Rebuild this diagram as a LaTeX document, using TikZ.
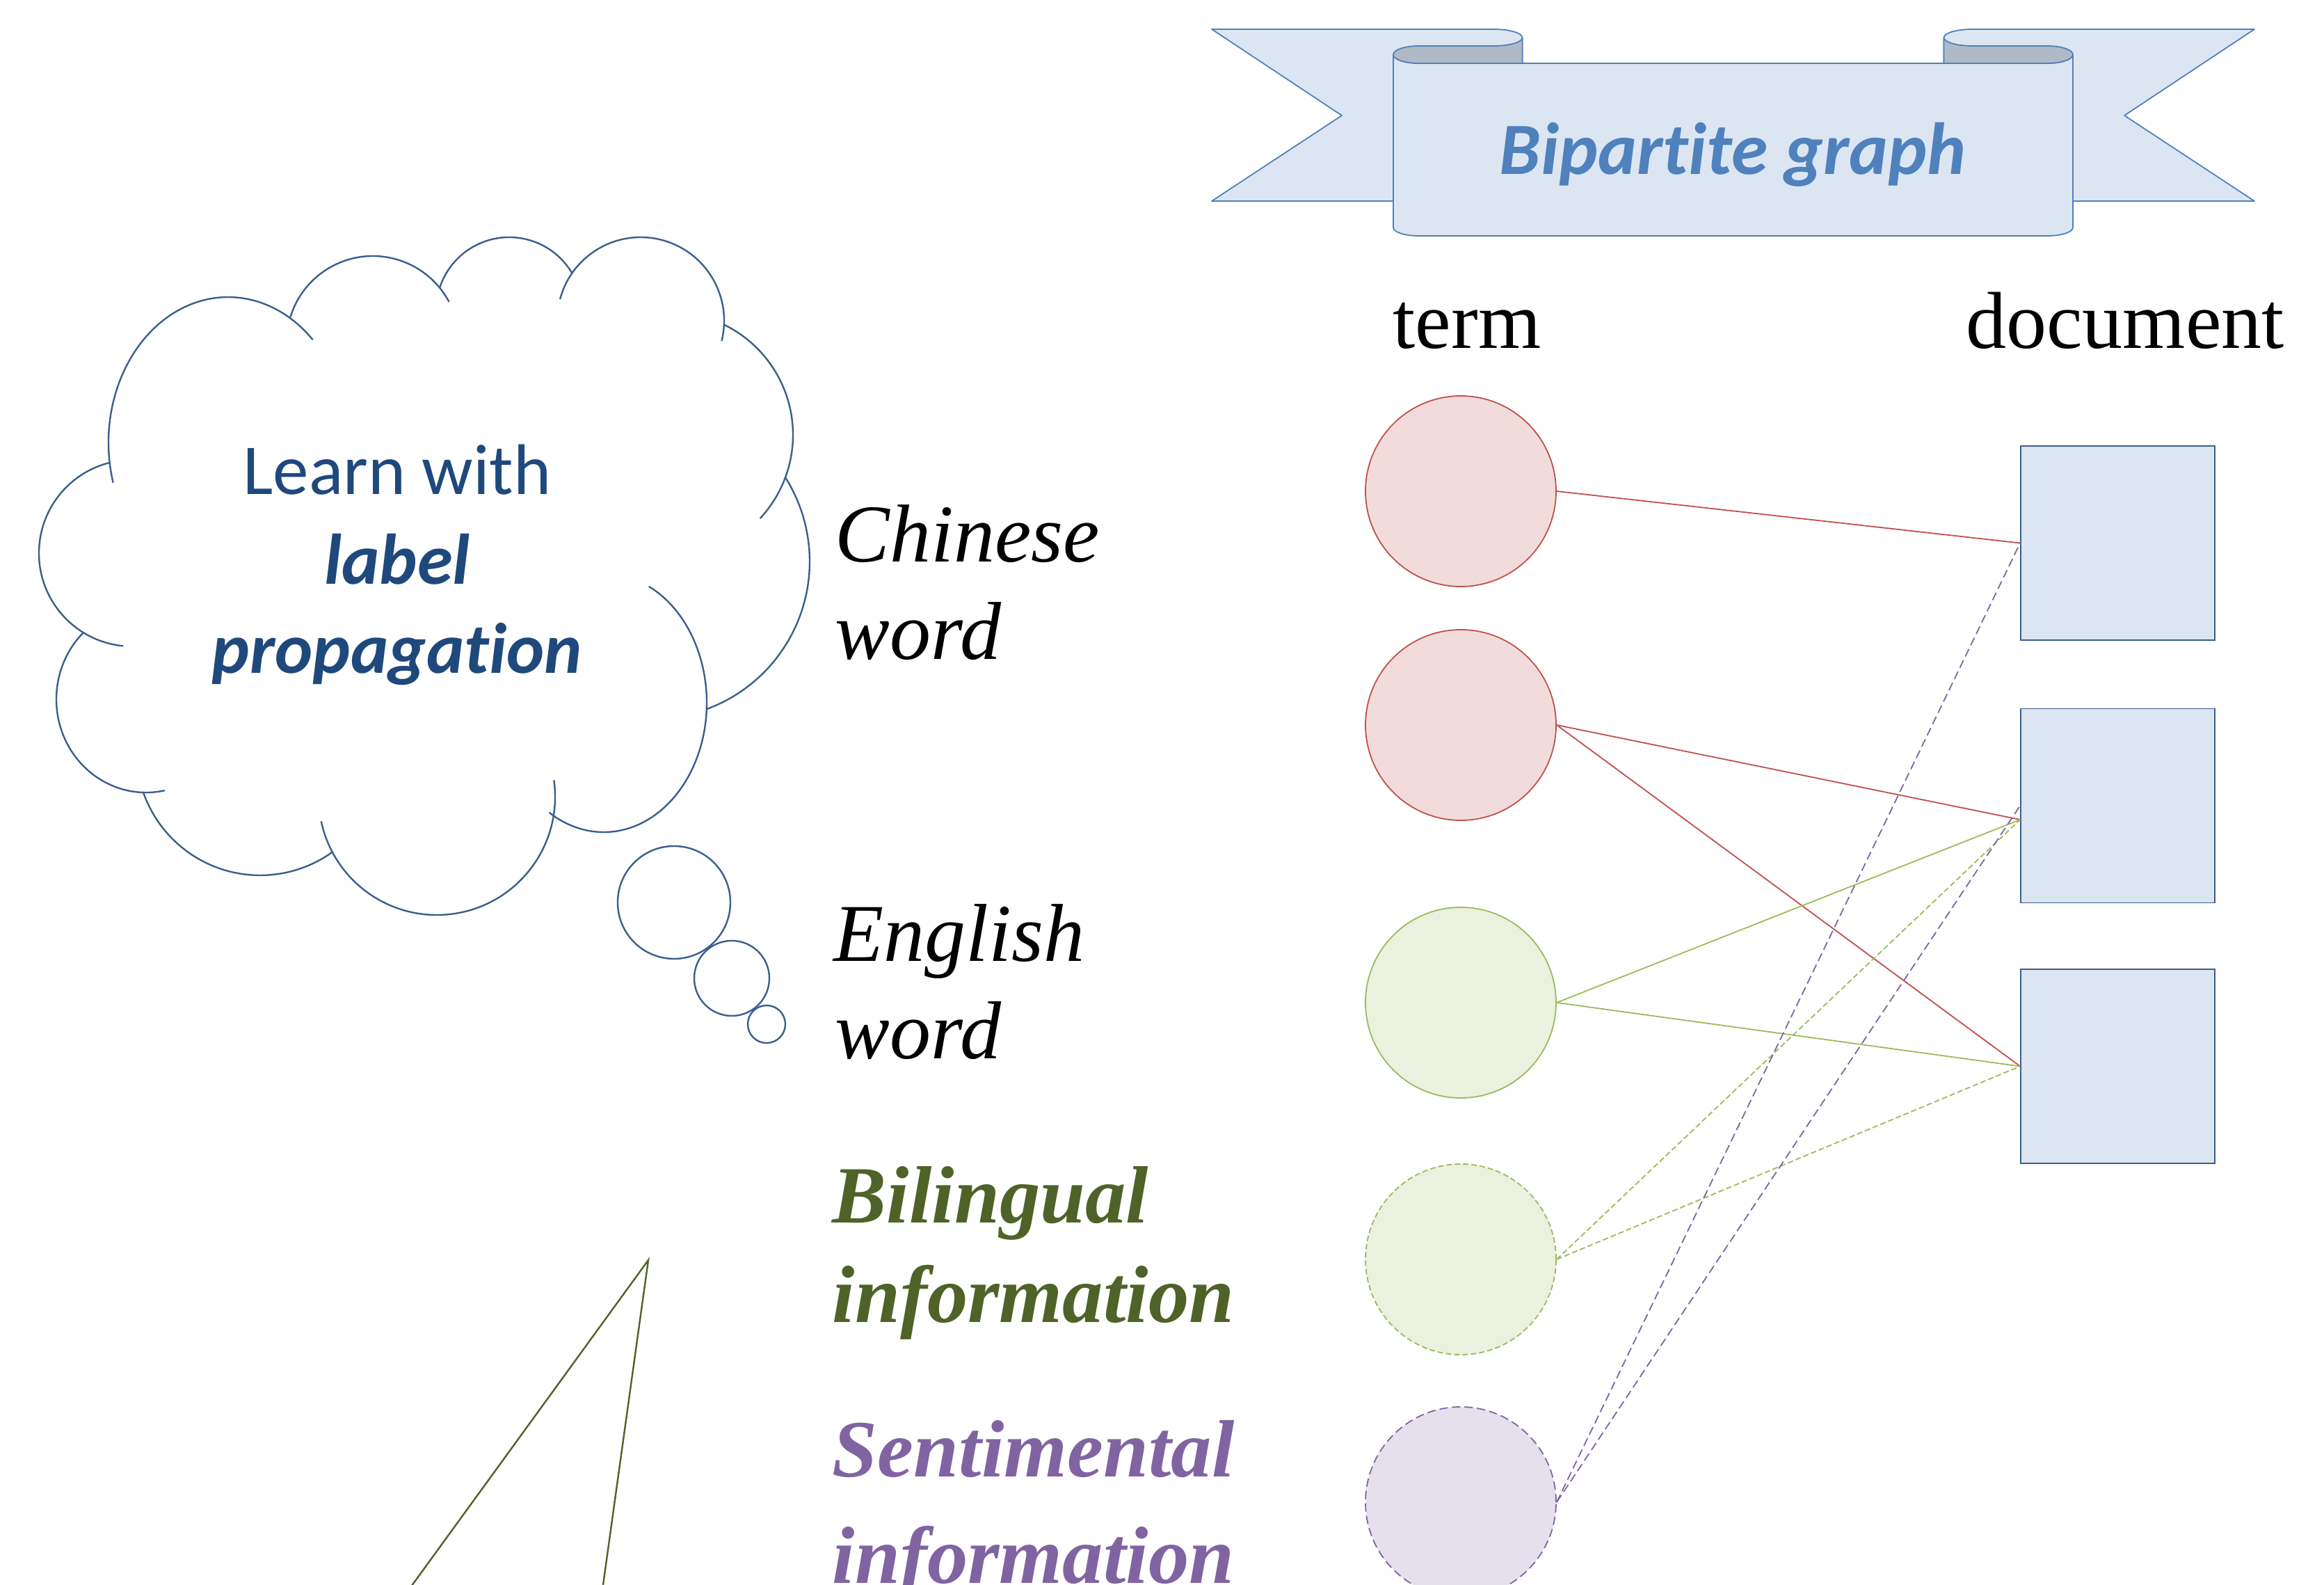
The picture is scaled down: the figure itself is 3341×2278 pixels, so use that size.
\documentclass[tikz,border=0pt]{standalone}
\usepackage{fontspec}
\setmainfont{Liberation Serif}
\newfontfamily\calibfont[Ligatures=NoCommon]{Carlito}
\definecolor{cred}{HTML}{C0504D}
\definecolor{credf}{HTML}{F2DCDB}
\definecolor{cgreen}{HTML}{9BBB59}
\definecolor{cgreenf}{HTML}{EBF1DE}
\definecolor{cpurple}{HTML}{8064A2}
\definecolor{cpurplef}{HTML}{E5E0EC}
\definecolor{cblue}{HTML}{4F81BD}
\definecolor{cbluef}{HTML}{DCE6F2}
\definecolor{cdark}{HTML}{3B5E8C}
\definecolor{ctext}{HTML}{1F497D}
\definecolor{cgray}{HTML}{B0BAC6}
\definecolor{colive}{HTML}{4F6228}
\tikzset{
  termc/.style={circle, minimum size=68.5pt, inner sep=0pt, line width=0.45pt},
  redc/.style={termc, draw=cred, fill=credf},
  greenc/.style={termc, draw=cgreen, fill=cgreenf},
  greendc/.style={termc, draw=cgreen, fill=cgreenf, dash pattern=on 2pt off 1pt},
  purpledc/.style={termc, draw=cpurple, fill=cpurplef, dash pattern=on 3pt off 1.5pt},
  docbox/.style={rectangle, minimum width=69.75pt, minimum height=69.75pt, inner sep=0pt, draw=cdark, fill=cbluef, line width=0.45pt},
  redl/.style={draw=cred, line width=0.45pt},
  greenl/.style={draw=cgreen, line width=0.45pt},
  greendl/.style={draw=cgreen, line width=0.45pt, dash pattern=on 2pt off 1pt},
  purpledl/.style={draw=cpurple, line width=0.45pt, dash pattern=on 3pt off 1.5pt},
  flag/.style={draw=cblue, fill=cbluef, line width=0.45pt, line join=round},
  roll/.style={draw=cblue, fill=cgray, line width=0.45pt, line join=round},
  cloudl/.style={draw=cdark, line width=0.6pt},
  lbl/.style={anchor=base west, inner sep=0pt, font=\fontsize{29.5}{35}\selectfont\itshape},
  lblb/.style={anchor=base west, inner sep=0pt, font=\fontsize{29.2}{35}\selectfont\bfseries\itshape},
  hdr/.style={anchor=base, inner sep=0pt, font=\fontsize{29}{35}\selectfont},
  cloudt/.style={anchor=base, inner sep=0pt, text=ctext, font=\calibfont\fontsize{25.75}{32}\selectfont},
}
\begin{document}
\begin{tikzpicture}[x=0.25pt,y=-0.25pt]
\useasboundingbox (0,0) rectangle (3341,2278);
\clip (0,0) rectangle (3341,2278);

% ---------- banner ----------
\draw[flag] (1742,42) -- (2147,42) arc[start angle=270, end angle=360, x radius=41.5, y radius=12]
  -- (2188.5,289) -- (1742,289) -- (1929,166) -- cycle;
\draw[flag] (3241,42) -- (2836,42) arc[start angle=270, end angle=180, x radius=41.5, y radius=12]
  -- (2794.5,289) -- (3241,289) -- (3054,166) -- cycle;
\draw[flag] (2003,78.5) -- (2003,327) arc[start angle=180, end angle=90, x radius=37, y radius=12]
  -- (2943,339) arc[start angle=90, end angle=0, x radius=37, y radius=12]
  -- (2980,78.5) arc[start angle=0, end angle=90, x radius=37, y radius=12.5]
  -- (2040,91) arc[start angle=90, end angle=180, x radius=37, y radius=12.5] -- cycle;
\draw[roll] (2040,66) -- (2147,66) arc[start angle=90, end angle=0, x radius=41.5, y radius=12]
  -- (2188.5,91) -- (2040,91) arc[start angle=90, end angle=270, x radius=37, y radius=12.5] -- cycle;
\draw[roll] (2943,66) -- (2836,66) arc[start angle=90, end angle=180, x radius=41.5, y radius=12]
  -- (2794.5,91) -- (2943,91) arc[start angle=90, end angle=-90, x radius=37, y radius=12.5] -- cycle;
\node[anchor=base, inner sep=0pt, text=cblue, font=\calibfont\fontsize{26.5}{32}\selectfont\bfseries\itshape]
  (title) at (2491,251) {Bipart\kern0pt ite graph};

% ---------- headers ----------
\node[hdr] (term) at (2109,501) {term};
\node[hdr] (document) at (3055,501) {document};

% ---------- term nodes ----------
\node[redc] (c1) at (2100,706) {};
\node[redc] (c2) at (2100,1042) {};
\node[greenc] (c3) at (2100,1441) {};
\node[greendc] (c4) at (2100,1810) {};
\node[purpledc] (c5) at (2100,2159) {};

% ---------- document nodes ----------
\node[docbox] (r1) at (3044.5,780.5) {};
\node[docbox] (r2) at (3044.5,1158) {};
\node[docbox] (r3) at (3044.5,1532.5) {};
\coordinate (r2low) at ([yshift=-5pt]r2.west);

% ---------- edges ----------
\draw[redl] (c1.east) -- (r1.west);
\draw[redl] (c2.east) -- (r2low);
\draw[redl] (c2.east) -- (r3.west);
\draw[greenl] (c3.east) -- (r2low);
\draw[greenl] (c3.east) -- (r3.west);
\draw[greendl] (c4.east) -- (r2low);
\draw[greendl] (c4.east) -- (r3.west);
\draw[purpledl] (c5.east) -- (r1.west);
\draw[purpledl] (c5.east) -- (r2.west);

% ---------- labels ----------
\node[lbl] (chn1) at (1200,807) {Chinese};
\node[lbl] (chn2) at (1200,947) {word};
\node[lbl] (eng1) at (1198,1381) {English};
\node[lbl] (eng2) at (1200,1521) {word};
\node[lblb, text=colive] (bil1) at (1196,1757) {Bilingual};
\node[lblb, text=colive] (bil2) at (1196,1900) {information};
\node[lblb, text=cpurple] (sen1) at (1196,2122) {Sentimental};
\node[lblb, text=cpurple] (sen2) at (1196,2275) {information};

% ---------- thought cloud ----------
\draw[cloudl] (328,636) ++(164:172 and 209) arc[start angle=164, end angle=315, x radius=172, y radius=209];
\draw[cloudl] (536,492) ++(197:124) arc[start angle=197, end angle=332, radius=124];
\draw[cloudl] (732,446) ++(198:105) arc[start angle=198, end angle=330, radius=105];
\draw[cloudl] (921,461) ++(195:120) arc[start angle=195, end angle=374, radius=120];
\draw[cloudl] (964,625) ++(296:176) arc[start angle=296, end angle=403, radius=176];
\draw[cloudl] (938,807) ++(327.6:226) arc[start angle=327.6, end angle=430, radius=226];
\draw[cloudl] (868,1010) ++(296:148 and 186) arc[start angle=296, end angle=482, x radius=148, y radius=186];
\draw[cloudl] (628,1145) ++(-8:170) arc[start angle=-8, end angle=168, radius=170];
\draw[cloudl] (374,1080) ++(54:178) arc[start angle=54, end angle=161, radius=178];
\draw[cloudl] (210,1005) ++(78:129 and 134) arc[start angle=78, end angle=225.5, x radius=129, y radius=134];
\draw[cloudl] (190,795) ++(95.5:134) arc[start angle=95.5, end angle=256, radius=134];
\node[cloudl, circle, minimum size=40.5pt, inner sep=0pt] (b1) at (969,1297) {};
\node[cloudl, circle, minimum size=27pt, inner sep=0pt] (b2) at (1052,1406) {};
\node[cloudl, circle, minimum size=13.5pt, inner sep=0pt] (b3) at (1102,1472) {};
\node[cloudt] (lw1) at (571,710) {Learn with};
\node[cloudt, font=\calibfont\fontsize{25.75}{32}\selectfont\bfseries\itshape] (lw2) at (571,839) {label};
\node[cloudt, font=\calibfont\fontsize{25.75}{32}\selectfont\bfseries\itshape] (lw3) at (571,967) {propagat\kern0pt ion};

% ---------- olive wedge ----------
\coordinate (apex) at (932,1811);
\coordinate (wl) at (504,2400);
\coordinate (wr) at (850,2400);
\draw[colive, line width=0.6pt, line join=miter] (wl) -- (apex) -- (wr);
\end{tikzpicture}
\end{document}
